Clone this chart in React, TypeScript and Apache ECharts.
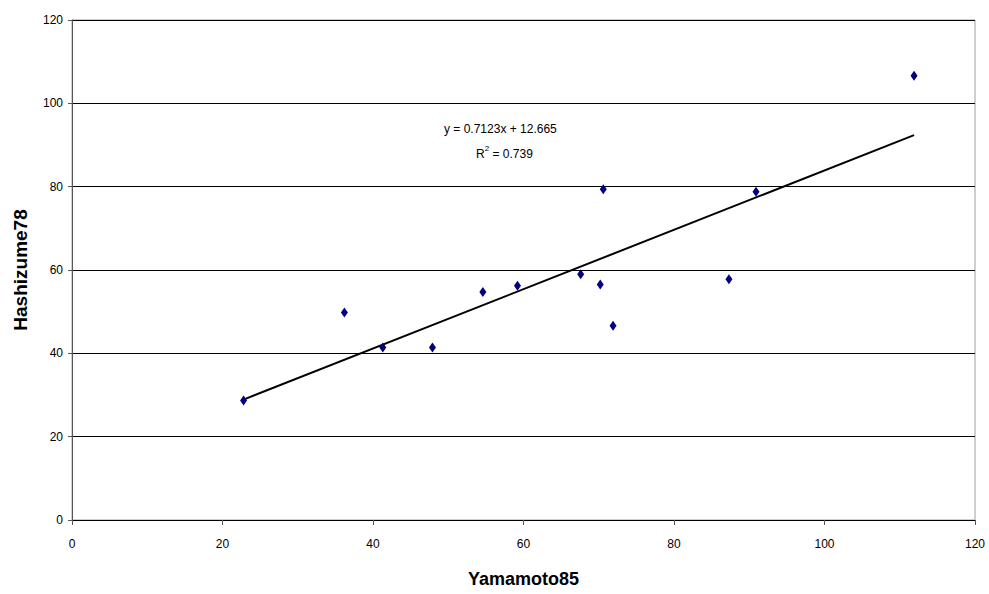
import React, { useEffect, useRef } from "react";
import * as echarts from "echarts";

const yamamoto85: number[] = [22.8, 36.2, 41.3, 47.9, 54.6, 59.2, 67.6, 70.6, 70.2, 71.9, 87.3, 90.9, 111.9];
const hashizume78: number[] = [28.7, 49.8, 41.4, 41.4, 54.7, 56.2, 59.0, 79.4, 56.5, 46.6, 57.8, 78.8, 106.6];
const slope = 0.7123;
const intercept = 12.665;
const rSquared = "0.739";
const xTicks: number[] = [0, 20, 40, 60, 80, 100, 120];
const yTicks: number[] = [0, 20, 40, 60, 80, 100, 120];

export default function App() {
  const ref = useRef<HTMLDivElement>(null);
  useEffect(() => {
    if (!ref.current) return;
    const chart = echarts.init(ref.current, null, { renderer: "svg" });
    const points = yamamoto85.map((x, i) => [x, hashizume78[i]]);
    const xMinData = Math.min(...yamamoto85);
    const xMaxData = Math.max(...yamamoto85);
    const trend = [
      [xMinData, slope * xMinData + intercept],
      [xMaxData, slope * xMaxData + intercept],
    ];
    const font = "'Liberation Sans', Arial, sans-serif";
    chart.setOption({
      animation: false,
      backgroundColor: "#ffffff",
      textStyle: { fontFamily: font },
      grid: { left: 72, right: 14, top: 20, bottom: 74, show: true, borderColor: "#a0a0a0", borderWidth: 1 },
      xAxis: {
        type: "value",
        min: xTicks[0],
        max: xTicks[xTicks.length - 1],
        interval: 20,
        name: "Yamamoto85",
        nameLocation: "middle",
        nameGap: 50,
        nameTextStyle: { fontSize: 18, fontWeight: "bold", color: "#000", fontFamily: font },
        axisLine: { show: true, onZero: false, lineStyle: { color: "#000", width: 1 } },
        axisTick: { show: true, length: 5, lineStyle: { color: "#555" } },
        axisLabel: { fontSize: 12, color: "#000", margin: 18, fontFamily: font },
        splitLine: { show: false },
      },
      yAxis: {
        type: "value",
        min: yTicks[0],
        max: yTicks[yTicks.length - 1],
        interval: 20,
        name: "Hashizume78",
        nameLocation: "middle",
        nameGap: 42,
        nameTextStyle: { fontSize: 19, fontWeight: "bold", color: "#000", fontFamily: font },
        axisLine: { show: true, onZero: false, lineStyle: { color: "#555", width: 1 } },
        axisTick: { show: true, length: 4, lineStyle: { color: "#555" } },
        axisLabel: { fontSize: 12, color: "#000", margin: 9, fontFamily: font },
        splitLine: { show: true, lineStyle: { color: "#000", width: 1 } },
      },
      series: [
        {
          type: "line",
          data: trend,
          symbol: "none",
          lineStyle: { color: "#000", width: 2 },
          z: 3,
          silent: true,
        },
        {
          type: "scatter",
          data: points,
          symbol: "diamond",
          symbolSize: [7, 10],
          itemStyle: { color: "#000080", opacity: 1 },
          z: 4,
        },
      ],
      graphic: [
        {
          type: "text",
          left: 444,
          top: 123,
          style: {
            text: "y = 0.7123x + 12.665",
            fontSize: 12,
            fill: "#000",
            fontFamily: font,
          },
        },
        {
          type: "text",
          left: 476,
          top: 144,
          style: {
            text: "{r|R}{s|2}{r| = " + rSquared + "}",
            fill: "#000",
            fontFamily: font,
            rich: {
              r: { fontSize: 12, fontFamily: font, fill: "#000", verticalAlign: "bottom", lineHeight: 16 },
              s: { fontSize: 8, fontFamily: font, fill: "#000", verticalAlign: "top", lineHeight: 16 },
            },
          },
        },
      ],
    });
    return () => chart.dispose();
  }, []);
  return <div ref={ref} style={{ width: 989, height: 594, position: "absolute", left: 0, top: 0 }} />;
}
